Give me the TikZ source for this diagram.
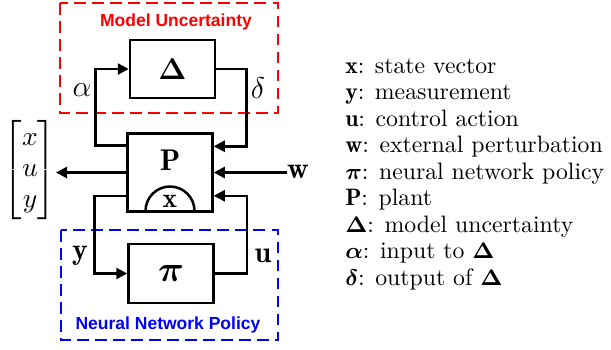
\documentclass[tikz,border=0pt]{standalone}
\usepackage{amsmath,bm}
\usepackage{fontspec}
\newfontfamily\titlefont{Liberation Sans}
\usetikzlibrary{arrows.meta,calc}
\begin{document}
\begin{tikzpicture}[x=0.4pt,y=-0.4pt,
  line width=1pt,
  arr/.style={-{Triangle[length=4.4pt,width=4.4pt]}, line width=1pt},
  blk/.style={draw, line width=1pt, minimum width=34pt, inner sep=0},
  lbl/.style={inner sep=0},
  legend/.style={inner sep=0, anchor=base west, font=\fontsize{9.5}{11.5}\selectfont},
  frame/.style={line width=1pt, dash pattern=on 4.6pt off 2.6pt},
  ttl/.style={inner sep=0, font=\titlefont\bfseries\fontsize{7}{8}\selectfont}]
\useasboundingbox (0,0) rectangle (611,349);

% frames
\draw[frame, red] (60,3) rectangle (278,113);
\draw[frame, blue] (61,230) rectangle (278,340);
\node[ttl, red] (t1) at (176,22) {Model Uncertainty};
\node[ttl, blue] (t2) at (168,325) {Neural Network Policy};

% blocks
\node[blk, minimum height=23.2pt] (D) at (172.5,69) {\large$\boldsymbol{\Delta}$};
\node[blk, minimum height=31.2pt] (P) at (170,172.5) {};
\node[blk, minimum height=23.6pt] (pi) at (171,273.5) {\Large$\boldsymbol{\pi}$};
\node[lbl] (Pl) at (170,160) {\large$\mathbf{P}$};
\draw (145.5,211) arc[start angle=180, end angle=360, radius=24.5];
\node[lbl] (xl) at (170,201) {\fontsize{11}{13}\selectfont$\mathbf{x}$};

% connectors
\draw[arr] ($(P.north west)+(0,13)$) -- ++(-31,0) |- (D.west);
\draw[arr] (D.east) -- ++(30,0) |- ($(P.north east)+(0,14)$);
\coordinate (out) at (56,172.5);
\coordinate (win) at (287,172.5);
\draw[arr] (P.west) -- (out);
\draw[arr] (win) -- (P.east);
\draw[arr] ($(P.south west)+(0,-17)$) -- ++(-32,0) |- (pi.west);
\draw[arr] (pi.east) -- ++(32,0) |- ($(P.south east)+(0,-17)$);

% labels
\node[lbl] (al) at (82,90) {\large$\alpha$};
\node[lbl] (dl) at (258,88) {\large$\delta$};
\node[lbl] (yl) at (80,256) {\large$\mathbf{y}$};
\node[lbl] (ul) at (263,256) {\large$\mathbf{u}$};
\node[lbl] (wl) at (298,172) {\large$\mathbf{w}$};
\node[lbl] (vec) at (30,170) {\fontsize{10.5}{12.5}\selectfont$\begin{bmatrix}x\\u\\y\end{bmatrix}$};

% legend
\foreach \t [count=\i from 0] in {%
  {$\mathbf{x}$: state vector},
  {$\mathbf{y}$: measurement},
  {$\mathbf{u}$: control action},
  {$\mathbf{w}$: external perturbation},
  {$\boldsymbol{\pi}$: neural network policy},
  {$\mathbf{P}$: plant},
  {$\boldsymbol{\Delta}$: model uncertainty},
  {$\boldsymbol{\alpha}$: input to $\boldsymbol{\Delta}$},
  {$\boldsymbol{\delta}$: output of $\boldsymbol{\Delta}$}}
  \node[legend] (leg\i) at (344,{73+26.5*\i}) {\t};
\end{tikzpicture}
\end{document}
